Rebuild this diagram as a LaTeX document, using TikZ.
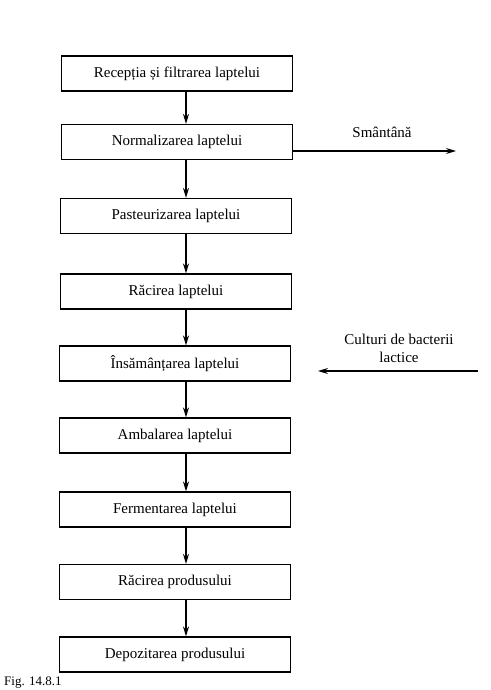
\documentclass[tikz,border=0pt]{standalone}
\usepackage{fontspec}
\setmainfont{Liberation Serif}
\usetikzlibrary{arrows.meta}
\begin{document}
\begin{tikzpicture}[x=1pt,y=-1pt,
  stagebox/.style={draw,line width=1.2pt,minimum width=231pt,minimum height=35pt,
    inner sep=0pt,font=\fontsize{15}{18}\selectfont},
  flow/.style={line width=1.2pt,-{Stealth[length=10pt,width=6pt]}},
  sidelabel/.style={font=\fontsize{15}{18}\selectfont,align=center}]
  \useasboundingbox (0,0) rectangle (490,690);

  % process stages, top to bottom
  \node[stagebox] (s1) at (177,73.5) {Recepția și filtrarea laptelui};
  \node[stagebox] (s2) at (177,142) {Normalizarea laptelui};
  \node[stagebox] (s3) at (176,216) {Pasteurizarea laptelui};
  \node[stagebox] (s4) at (176,291.5) {Răcirea laptelui};
  \node[stagebox] (s5) at (175,363.5) {Însămânțarea laptelui};
  \node[stagebox] (s6) at (175,435.5) {Ambalarea laptelui};
  \node[stagebox] (s7) at (175,509.5) {Fermentarea laptelui};
  \node[stagebox] (s8) at (175,582) {Răcirea produsului};
  \node[stagebox] (s9) at (175,654.5) {Depozitarea produsului};

  % main flow between stages, along one vertical spine
  \coordinate (spine) at (186,0);
  \foreach \a/\b in {s1/s2,s2/s3,s3/s4,s4/s5,s5/s6,s6/s7,s7/s8,s8/s9}
    \draw[flow] (spine |- \a.south) -- (spine |- \b.north);

  % cream removed at normalisation
  \coordinate (creamEnd) at (456,151);
  \draw[flow] (s2.east |- creamEnd) -- (creamEnd);
  \node[sidelabel] (cream) at (382,132) {Smântână};

  % lactic bacteria cultures added at inoculation
  \coordinate (cultStart) at (478,371);
  \coordinate (cultEnd) at (318,371);
  \draw[flow] (cultStart) -- (cultEnd);
  \node[sidelabel] (cult) at (399,348) {Culturi de bacterii\\lactice};

  % figure caption at the foot of the page
  \node[anchor=base west,font=\fontsize{13}{16}\selectfont,inner sep=0pt] (cap) at (4,685.5) {Fig. 14.8.1};
\end{tikzpicture}
\end{document}
